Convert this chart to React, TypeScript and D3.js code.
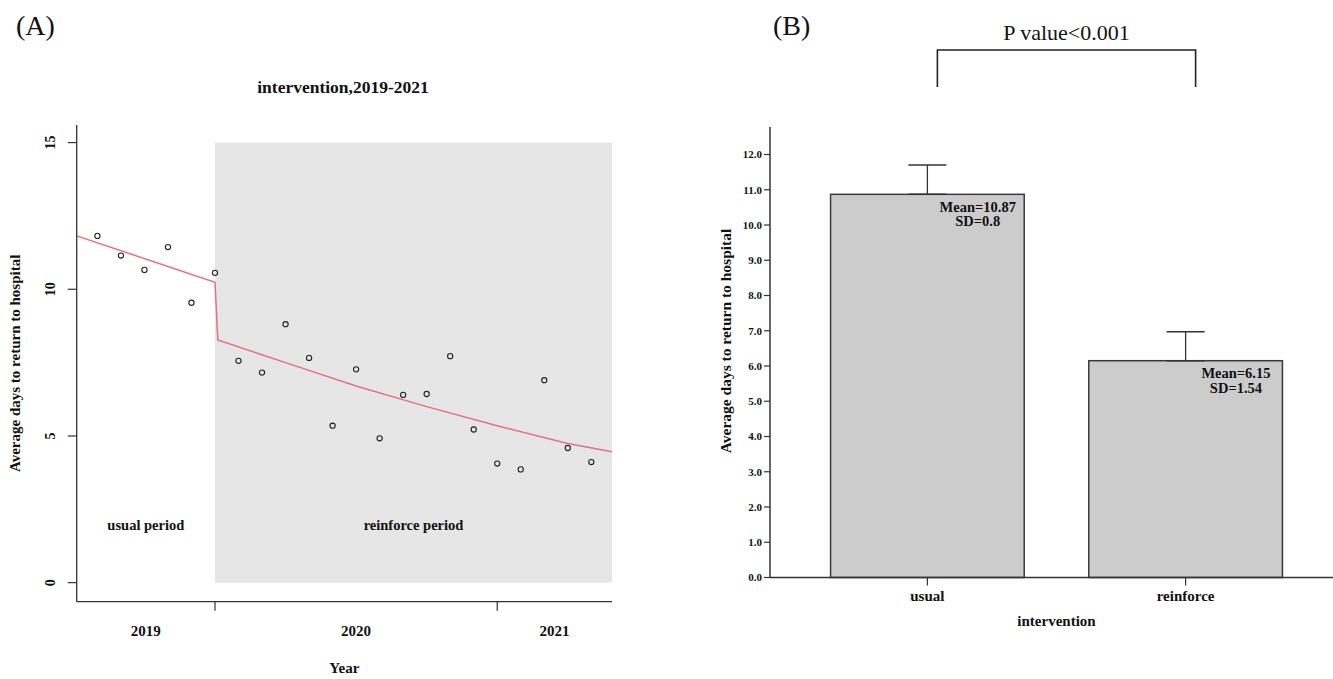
import React from 'react'
import { scaleLinear, scaleBand, line, format } from 'd3'

// panel A: monthly average days, month index 1..22
const months = [1, 2, 3, 4, 5, 6, 7, 8, 9, 10, 11, 12, 13, 14, 15, 16, 17, 18, 19, 20, 21, 22]
const monthlyDays = [
  11.82, 11.15, 10.66, 11.44, 9.54, 10.56, 7.56, 7.16, 8.81, 7.66, 5.35,
  7.27, 4.92, 6.4, 6.43, 7.72, 5.22, 4.06, 3.86, 6.9, 4.59, 4.11
]
// fitted segmented regression
const fitMonths = [0.12, 6, 6.12, 9, 12, 15, 18, 21, 22.88]
const fitDays = [11.82, 10.24, 8.27, 7.5, 6.7, 6.0, 5.35, 4.74, 4.46]
const yearBreaks = [6, 18]
const yearLabels = ['2019', '2020', '2021']
const yTicksA = [0, 5, 10, 15]

// panel B
const groups = ['usual', 'reinforce']
const means = [10.87, 6.15]
const sds = [0.8, 1.54]
const errorTops = [11.7, 6.97]
const yTicksB = [0, 1, 2, 3, 4, 5, 6, 7, 8, 9, 10, 11, 12]

const FONT = "'Liberation Serif', 'Times New Roman', serif"
const AXIS = '#333'

const PanelA = () => {
  const x = scaleLinear().domain([0.12, 22.88]).range([76.7, 612])
  const y = scaleLinear().domain([-0.65, 15.6]).range([601.7, 125])
  const [x0, x1] = x.range()
  const [yBottom, yTop] = y.range()

  const fitLine = line<number>()
    .x((d, i) => x(fitMonths[i]))
    .y(d => y(d))

  const edges = [x.domain()[0], ...yearBreaks, x.domain()[1]]

  return (
    <g fontFamily={FONT} fontWeight="bold" fill="#111">
      <text x={16} y={35} fontSize={28} fontWeight="normal">(A)</text>
      <text x={343} y={92.5} fontSize={17.5} textAnchor="middle">intervention,2019-2021</text>

      <rect
        x={x(yearBreaks[0])}
        y={y(15)}
        width={x1 - x(yearBreaks[0])}
        height={y(0) - y(15)}
        fill="#e6e6e6"
      />

      <path d={fitLine(fitDays) || ''} fill="none" stroke="#e8707b" strokeWidth={1.5} />

      {monthlyDays.map((d, i) => (
        <circle key={i} cx={x(months[i])} cy={y(d)} r={2.6} fill="none" stroke="#222" strokeWidth={1.1} />
      ))}

      <text x={(x0 + x(yearBreaks[0])) / 2} y={y(1.8)} fontSize={14.5} textAnchor="middle">usual period</text>
      <text x={(x(yearBreaks[0]) + x1) / 2} y={y(1.8)} fontSize={14.5} textAnchor="middle">reinforce period</text>

      <line x1={x0} y1={yTop} x2={x0} y2={yBottom} stroke={AXIS} strokeWidth={1.3} />
      <line x1={x0} y1={yBottom} x2={x1} y2={yBottom} stroke={AXIS} strokeWidth={1.3} />

      {yTicksA.map(t => (
        <g key={t}>
          <line x1={x0 - 9} x2={x0} y1={y(t)} y2={y(t)} stroke={AXIS} strokeWidth={1.2} />
          <text transform={`translate(55,${y(t)}) rotate(-90)`} fontSize={14} textAnchor="middle">{t}</text>
        </g>
      ))}

      {yearBreaks.map(b => (
        <line key={b} x1={x(b)} x2={x(b)} y1={yBottom} y2={yBottom + 9} stroke={AXIS} strokeWidth={1.2} />
      ))}
      {yearLabels.map((lab, i) => (
        <text key={lab} x={(x(edges[i]) + x(edges[i + 1])) / 2} y={635.5} fontSize={15} textAnchor="middle">
          {lab}
        </text>
      ))}

      <text x={(x0 + x1) / 2} y={673} fontSize={15} textAnchor="middle">Year</text>
      <text transform={`translate(20,${(yTop + yBottom) / 2}) rotate(-90)`} fontSize={15} textAnchor="middle">
        Average days to return to hospital
      </text>
    </g>
  )
}

const PanelB = () => {
  const x = scaleBand<string>().domain(groups).range([766, 1347]).paddingInner(0.25).paddingOuter(0.25)
  const y = scaleLinear().domain([0, 12]).range([577.5, 154.5])
  const axisX = 770
  const fmt = format('.1f')
  const bw = x.bandwidth()
  const capHalf = 19
  const center = (g: string) => (x(g) as number) + bw / 2

  const bracketL = center(groups[0]) + 10
  const bracketR = center(groups[1]) + 10

  return (
    <g fontFamily={FONT} fill="#111">
      <text x={773} y={35} fontSize={28}>(B)</text>
      <text x={(bracketL + bracketR) / 2} y={40} fontSize={22} textAnchor="middle">P value&lt;0.001</text>
      <path
        d={`M${bracketL},87 V50 H${bracketR} V87`}
        fill="none"
        stroke="#222"
        strokeWidth={1.6}
      />

      {groups.map((g, i) => (
        <g key={g}>
          <line x1={center(g)} x2={center(g)} y1={y(means[i])} y2={y(errorTops[i])} stroke="#333" strokeWidth={1.3} />
          <line x1={center(g) - capHalf} x2={center(g) + capHalf} y1={y(errorTops[i])} y2={y(errorTops[i])} stroke="#333" strokeWidth={1.5} />
          <rect
            x={x(g)}
            y={y(means[i])}
            width={bw}
            height={y(0) - y(means[i])}
            fill="#cccccc"
            stroke="#3a3a3a"
            strokeWidth={1.5}
          />
          <line x1={center(g) - capHalf} x2={center(g) + capHalf} y1={y(means[i])} y2={y(means[i])} stroke="#333" strokeWidth={1.5} />
          <g fontWeight="bold" fontSize={14.5} textAnchor="middle">
            <text x={(x(g) as number) + bw - 46.5} y={y(means[i]) + 17.5}>Mean={means[i]}</text>
            <text x={(x(g) as number) + bw - 46.5} y={y(means[i]) + 32}>SD={sds[i]}</text>
          </g>
        </g>
      ))}

      <line x1={axisX} x2={axisX} y1={127} y2={y(0)} stroke={AXIS} strokeWidth={1.5} />
      <line x1={axisX} x2={1333} y1={y(0)} y2={y(0)} stroke={AXIS} strokeWidth={1.5} />

      <g fontWeight="bold" fontSize={11}>
        {yTicksB.map(t => (
          <g key={t}>
            <line x1={axisX - 6} x2={axisX} y1={y(t)} y2={y(t)} stroke={AXIS} strokeWidth={1.2} />
            <text x={axisX - 8} y={y(t) + 3.8} textAnchor="end">{fmt(t)}</text>
          </g>
        ))}
      </g>

      <g fontWeight="bold" fontSize={15} textAnchor="middle">
        {groups.map(g => (
          <g key={g}>
            <line x1={center(g)} x2={center(g)} y1={y(0)} y2={y(0) + 8} stroke={AXIS} strokeWidth={1.2} />
            <text x={center(g)} y={600.5}>{g}</text>
          </g>
        ))}
        <text x={(center(groups[0]) + center(groups[1])) / 2} y={625.5}>intervention</text>
        <text transform={`translate(731,341) rotate(-90)`} fontSize={15.5}>
          Average days to return to hospital
        </text>
      </g>
    </g>
  )
}

export default function App() {
  return (
    <svg
      width={1333}
      height={679}
      style={{ position: 'absolute', left: 0, top: 0, display: 'block', background: '#fff' }}
    >
      <rect width={1333} height={679} fill="#fff" />
      <PanelA />
      <PanelB />
    </svg>
  )
}
